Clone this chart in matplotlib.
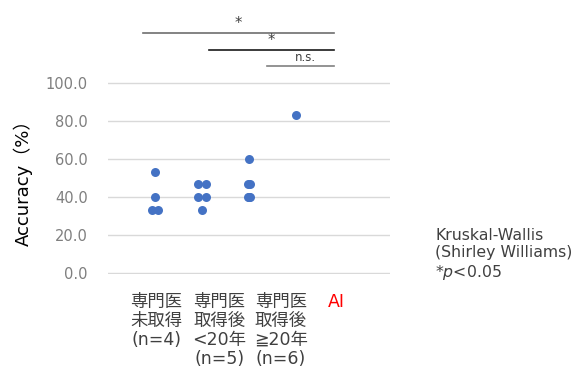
import numpy as np
import matplotlib.pyplot as plt

plt.rcParams['font.family'] = ['DejaVu Sans', 'Noto Sans CJK JP']

# group positions and accuracy values (%)
group_x = [1, 2, 3, 4]
group_labels = ['専門医\n未取得\n(n=4)', '専門医\n取得後\n<20年\n(n=5)', '専門医\n取得後\n≧20年\n(n=6)', 'AI']
label_colors = ['#404040', '#404040', '#404040', '#FF0000']
acc_g1 = [53.3, 40.0, 33.3, 33.3]
acc_g2 = [46.7, 46.7, 40.0, 40.0, 33.3]
acc_g3 = [60.0, 46.7, 46.7, 40.0, 40.0, 40.0]
acc_ai = [83.3]
# small horizontal offsets so overlapping points show (like the original)
off_g1 = [0, 0, -0.065, 0.065]
off_g2 = [-0.085, 0.085, -0.085, 0.085, 0]
off_g3 = [0, -0.015, 0.015, -0.03, 0, 0.03]
off_ai = [0]

yticks = [0, 20, 40, 60, 80, 100]

fig = plt.figure(figsize=(5.77, 3.67), dpi=100)
ax = fig.add_axes([0.187, 0.2534, 0.489, 0.5232])

blue = '#4472C4'
for gx, vals, offs in zip(group_x, [acc_g1, acc_g2, acc_g3, acc_ai], [off_g1, off_g2, off_g3, off_ai]):
    xs = [gx + o for o in offs]
    ax.scatter(xs, vals, s=42, color=blue, zorder=3, clip_on=False, linewidths=0)

ax.set_xlim(0, 6)
ax.set_ylim(-0.4, 100.4)
ax.set_yticks(yticks)
ax.set_yticklabels(['%.1f' % t for t in yticks], color='#7f7f7f', fontsize=10.5)
ax.set_xticks([])
ax.tick_params(axis='y', length=0, pad=14.4)
ax.grid(axis='y', color='#d9d9d9', linewidth=1)
ax.set_axisbelow(True)
for s in ax.spines.values():
    s.set_visible(False)
ax.set_ylabel('Accuracy（%）', fontsize=13, labelpad=9)

# category labels under the plot
label_x = [1.03, 2.37, 3.68, 4.86]
for lx, lab, c in zip(label_x, group_labels, label_colors):
    ax.text(lx, -10.5, lab, ha='center', va='top', fontsize=12.5, color=c,
            linespacing=1.06, clip_on=False)

# significance brackets
brackets = [(0.74, 4.8, 126, '*', '#6e6e6e'), (2.16, 4.8, 117.2, '*', '#1a1a1a'),
            (3.38, 4.8, 108.9, 'n.s.', '#808080')]
for x0, x1, yy, txt, lc in brackets:
    ax.plot([x0, x1], [yy, yy], color=lc, linewidth=1.2, clip_on=False)
    if txt == '*':
        ax.text((x0 + x1) / 2, yy + 1.0, txt, ha='center', va='bottom',
                fontsize=10.5, color='#404040', clip_on=False)
    else:
        ax.text(4.2, yy + 1.2, txt, ha='center', va='bottom',
                fontsize=8.5, color='#404040', clip_on=False)

fig.text(0.754, 0.305, 'Kruskal-Wallis\n(Shirley Williams)\n*$\\it{p}$<0.05', ha='left', va='center',
         fontsize=11.3, color='#404040', linespacing=1.18)

fig.savefig('out.png', dpi=100)
